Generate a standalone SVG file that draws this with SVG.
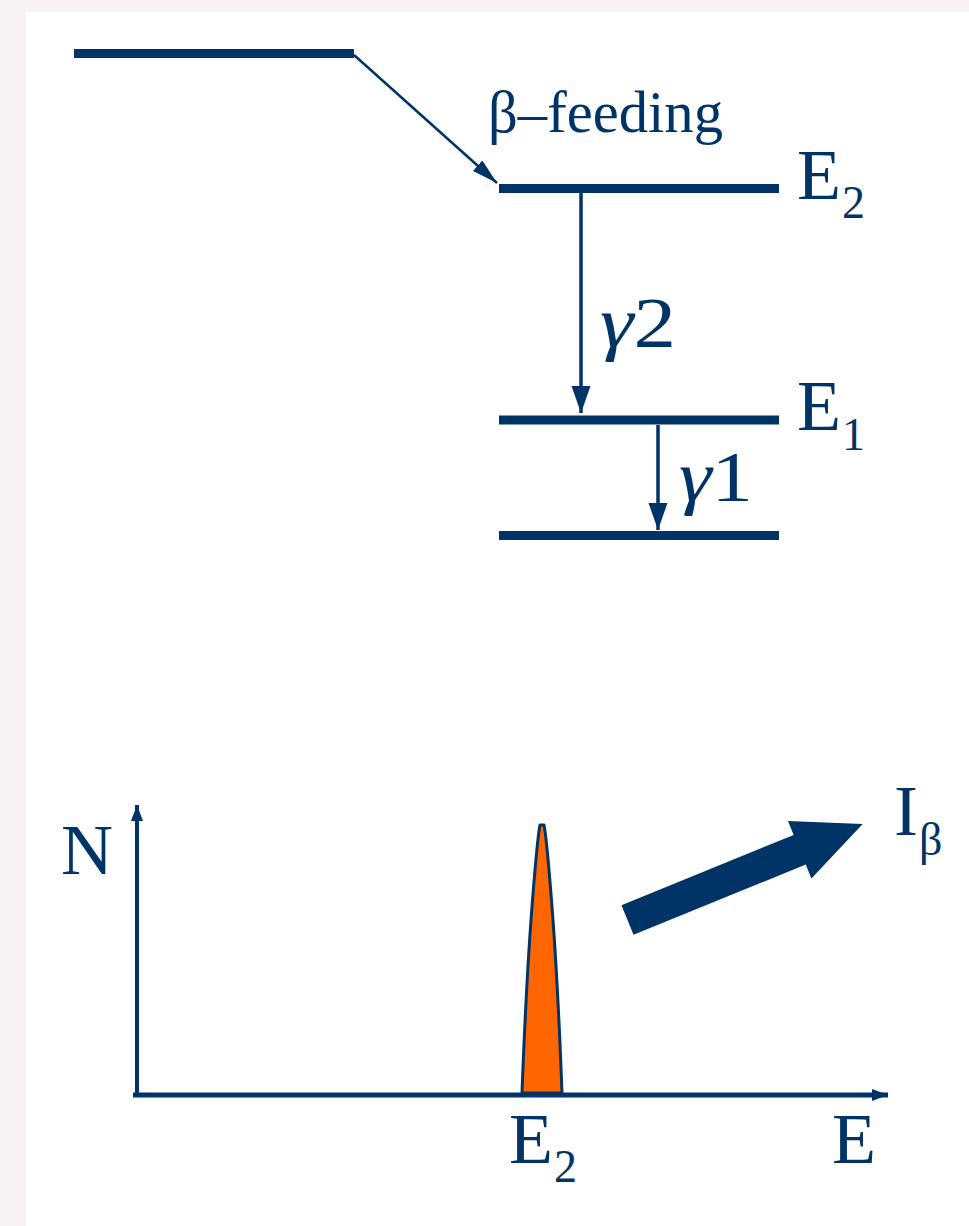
<svg xmlns="http://www.w3.org/2000/svg" width="969" height="1226" viewBox="0 0 969 1226">
<style>
.lvl{stroke:#003366;stroke-width:9;fill:none}
.thin{stroke:#003366;stroke-width:3.5;fill:none}
.t{font-family:"Liberation Serif","Times New Roman",serif;fill:#003366}
.big{font-size:72px}
.sub{font-size:46px}
</style>
<defs>
<marker id="ah" markerUnits="userSpaceOnUse" markerWidth="30" markerHeight="22" refX="27" refY="9.5" orient="auto">
<path d="M0,0 L27,9.5 L0,19 Z" fill="#003366"/>
</marker>
<marker id="ahs" markerUnits="userSpaceOnUse" markerWidth="28" markerHeight="18" refX="26" refY="7" orient="auto">
<path d="M0,0 L26,7 L0,14 Z" fill="#003366"/>
</marker>
<marker id="axh" markerUnits="userSpaceOnUse" markerWidth="18" markerHeight="14" refX="16" refY="6" orient="auto">
<path d="M0,0 L16,6 L0,12 Z" fill="#003366"/>
</marker>
</defs>
<rect x="0" y="0" width="969" height="1226" fill="#f7f3f2"/>
<rect x="26" y="12" width="943" height="1214" fill="#ffffff"/>

<g id="levels">
<line id="level-parent" class="lvl" x1="74" y1="53.5" x2="354" y2="53.5"/>
<line id="level-E2" class="lvl" x1="499" y1="188.5" x2="779" y2="188.5"/>
<line id="level-E1" class="lvl" x1="499" y1="420" x2="779" y2="420"/>
<line id="level-ground" class="lvl" x1="499" y1="535.5" x2="779" y2="535.5"/>
</g>

<g id="connectors">
<line x1="354" y1="55" x2="497" y2="183" stroke="#003366" stroke-width="2.5" marker-end="url(#ahs)"/>
<line class="thin" x1="581" y1="193" x2="581" y2="413" marker-end="url(#ah)"/>
<line class="thin" x1="658" y1="425" x2="658" y2="530" marker-end="url(#ah)"/>
</g>

<g id="labels">
<text class="t" x="488" y="132" font-size="60" textLength="235" lengthAdjust="spacingAndGlyphs">β–feeding</text>
<text class="t big" x="797" y="199">E</text>
<text class="t sub" x="842" y="218">2</text>
<text class="t big" x="797" y="430">E</text>
<text class="t sub" x="842" y="450">1</text>
<text class="t big" x="600" y="347" textLength="76" lengthAdjust="spacingAndGlyphs"><tspan font-style="italic">γ</tspan>2</text>
<text class="t big" x="679" y="501" textLength="74" lengthAdjust="spacingAndGlyphs"><tspan font-style="italic">γ</tspan>1</text>
</g>

<g id="spectrum">
<line x1="137" y1="1095" x2="137" y2="805" stroke="#003366" stroke-width="4" marker-end="url(#axh)"/>
<line x1="133" y1="1095" x2="888" y2="1095" stroke="#003366" stroke-width="5" marker-end="url(#axh)"/>
<path d="M522,1093 C524,1040 527,975 531,920 C534,880 537,840 540,825 L544,825 C547,840 550,880 553,920 C557,975 560,1040 562,1093 Z" fill="#ff6600" stroke="#003366" stroke-width="3" stroke-linejoin="round"/>
<text class="t big" x="61" y="874">N</text>
<text class="t big" x="509" y="1163">E</text>
<text class="t sub" x="554" y="1182">2</text>
<text class="t big" x="832" y="1163">E</text>
</g>

<g id="intensity-arrow">
<polygon transform="translate(627.5,920) rotate(-22.2)" points="0,-16 186,-16 186,-31 254,0 186,31 186,16 0,16" fill="#003366"/>
<text class="t big" x="894" y="835">I</text>
<text class="t sub" x="919" y="855">β</text>
</g>
</svg>
